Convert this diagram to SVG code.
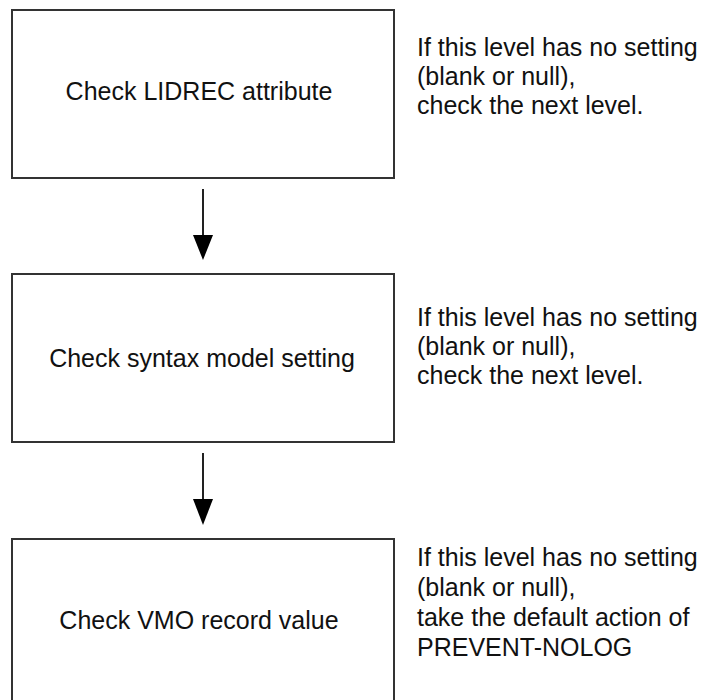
<svg xmlns="http://www.w3.org/2000/svg" width="709" height="700" viewBox="0 0 709 700">
<style>
.box{fill:#fff;stroke:#333;stroke-width:2}
.lbl{font-family:"Liberation Sans",Arial,sans-serif;font-size:25px;fill:#111;text-anchor:middle}
.note{font-family:"Liberation Sans",Arial,sans-serif;font-size:25px;fill:#111}
.conn line{stroke:#222;stroke-width:2}
.conn polygon{fill:#000}
</style>
<rect width="709" height="700" fill="#fff"/>
<g id="node1">
<rect class="box" x="12" y="10" width="382" height="168"/>
<text class="lbl" x="199" y="100">Check LIDREC attribute</text>
</g>
<g id="note1">
<text class="note" x="417" y="56">If this level has no setting</text>
<text class="note" x="417" y="85">(blank or null),</text>
<text class="note" x="417" y="114">check the next level.</text>
</g>
<g id="node2">
<rect class="box" x="12" y="274" width="382" height="168"/>
<text class="lbl" x="202" y="367">Check syntax model setting</text>
</g>
<g id="note2">
<text class="note" x="417" y="326">If this level has no setting</text>
<text class="note" x="417" y="355">(blank or null),</text>
<text class="note" x="417" y="384">check the next level.</text>
</g>
<g id="node3">
<rect class="box" x="12" y="539" width="382" height="172"/>
<text class="lbl" x="199" y="629">Check VMO record value</text>
</g>
<g id="note3">
<text class="note" x="417" y="566">If this level has no setting</text>
<text class="note" x="417" y="596">(blank or null),</text>
<text class="note" x="417" y="626">take the default action of</text>
<text class="note" x="417" y="656">PREVENT-NOLOG</text>
</g>
<g id="connectors" class="conn">
<line x1="203" y1="189" x2="203" y2="240"/>
<polygon points="193,235 213,235 203,260"/>
<line x1="203" y1="453" x2="203" y2="504"/>
<polygon points="193,499 213,499 203,525"/>
</g>
</svg>
